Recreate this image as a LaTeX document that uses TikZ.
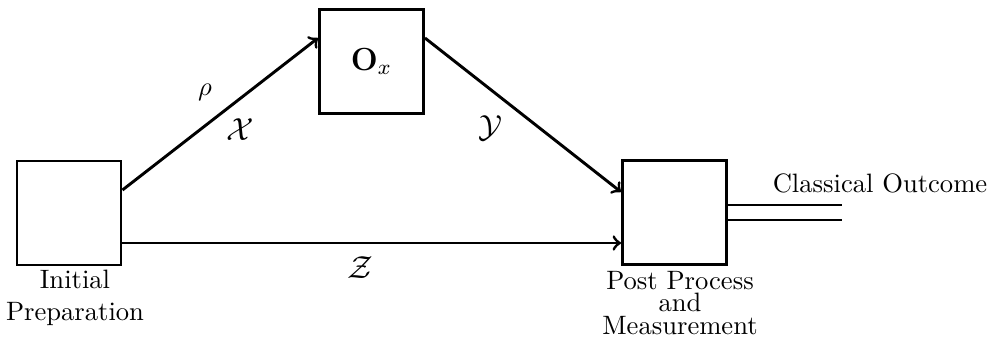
\documentclass[tikz,border=0pt]{standalone}
\usetikzlibrary{calc}
\begin{document}
\begin{tikzpicture}[x=0.376pt,y=-0.376pt,
  box/.style={draw,line width=1.1pt,minimum width=39.1pt,minimum height=39.1pt,inner sep=0pt},
  conn/.style={line width=1.1pt,->},
  lbl/.style={inner sep=0pt}]
\useasboundingbox (0,0) rectangle (989,341);
\node[box] (L) at (69,213) {};
\node[box] (O) at (371.5,61.5) {\large$\mathbf{O}_x$};
\node[box] (R) at (674.5,212.5) {};
\coordinate (L1) at ($(L.east)+(0,-23)$);
\coordinate (L2) at ($(L.east)+(0,30)$);
\coordinate (O1) at ($(O.west)+(0,-23.5)$);
\coordinate (O2) at ($(O.east)+(0,-23.5)$);
\coordinate (R1) at ($(R.west)+(0,-20.5)$);
\coordinate (R2) at ($(R.west)+(0,30.5)$);
\draw[conn] (L1) -- (O1);
\draw[conn] (O2) -- (R1);
\draw[conn] (L2) -- (R2);
\coordinate (D1) at ($(R.east)+(114,-7.5)$);
\coordinate (D2) at ($(R.east)+(114,7.5)$);
\draw[line width=1.1pt] ($(R.east)+(0,-7.5)$) -- (D1);
\draw[line width=1.1pt] ($(R.east)+(0,7.5)$) -- (D2);
\node[lbl] (rho) at (205,92) {$\rho$};
\node[lbl] (X) at (240,130) {\large$\mathcal{X}$};
\node[lbl] (Y) at (490,128) {\large$\mathcal{Y}$};
\node[lbl] (Z) at (360,268) {\large$\mathcal{Z}$};
\node[lbl] (CO) at (880,183) {Classical Outcome};
\node[lbl,align=center] (IP) at (75,298) {Initial\\Preparation};
\node[lbl,align=center] (PM) at (680,303) {Post Process\\[-3.4pt]and\\[-3.4pt]Measurement};
\end{tikzpicture}
\end{document}
